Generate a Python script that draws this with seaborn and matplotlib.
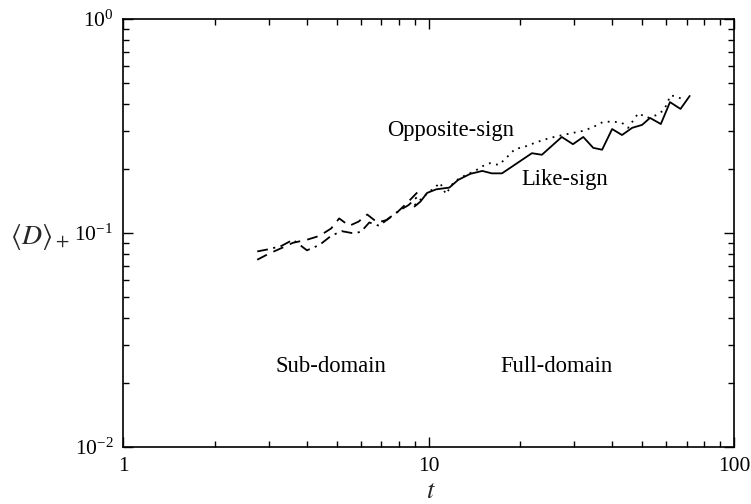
import numpy as np
import pandas as pd
import matplotlib
matplotlib.use("Agg")
import matplotlib.pyplot as plt
from matplotlib.ticker import LogLocator, LogFormatterMathtext, FuncFormatter, NullFormatter
import seaborn as sns

# Sub-domain runs
sub_dash_t = [2.75, 3.0, 3.3, 3.6, 4.0, 4.4, 4.8, 5.1, 5.5, 5.9, 6.3, 6.8, 7.3, 7.9, 8.5, 9.2]
sub_dash_D = [0.075, 0.080, 0.085, 0.090, 0.093, 0.097, 0.105, 0.117, 0.108, 0.113,
              0.122, 0.112, 0.115, 0.125, 0.138, 0.155]
sub_dashdot_t = [2.75, 3.0, 3.3, 3.6, 4.0, 4.4, 4.8, 5.2, 5.6, 6.0, 6.4, 6.9, 7.4, 8.0, 8.6, 9.3]
sub_dashdot_D = [0.082, 0.084, 0.087, 0.093, 0.083, 0.088, 0.097, 0.102, 0.100, 0.101,
                 0.112, 0.108, 0.117, 0.127, 0.135, 0.150]

# Full-domain runs
like_t = [9.0, 9.4, 9.9, 10.6, 11.7, 12.5, 13.7, 15.0, 16.1, 17.4, 19.5, 21.8, 23.5, 27.3,
          29.7, 32.1, 34.6, 37.0, 39.9, 43.0, 46.4, 50.0, 53.1, 57.6, 60.6, 61.7, 66.8, 71.6]
like_D = [0.133, 0.140, 0.154, 0.160, 0.163, 0.177, 0.189, 0.195, 0.190, 0.190, 0.212, 0.236,
          0.232, 0.281, 0.260, 0.281, 0.250, 0.245, 0.306, 0.287, 0.310, 0.320, 0.345, 0.323,
          0.384, 0.409, 0.380, 0.437]
opp_t = [9.0, 9.5, 10.0, 10.5, 10.9, 11.4, 12.0, 12.6, 13.4, 14.2, 15.0, 15.9, 17.0, 18.0,
         19.2, 20.5, 22.0, 23.7, 25.5, 27.5, 29.5, 32.0, 34.5, 37.2, 40.0, 43.0, 45.0, 48.6,
         52.0, 55.5, 59.0, 62.0, 65.5, 68.0]
opp_D = [0.135, 0.145, 0.155, 0.163, 0.172, 0.152, 0.170, 0.180, 0.188, 0.195, 0.205, 0.212,
         0.208, 0.225, 0.247, 0.252, 0.262, 0.272, 0.280, 0.287, 0.293, 0.300, 0.312, 0.330,
         0.332, 0.327, 0.310, 0.363, 0.345, 0.355, 0.375, 0.440, 0.432, 0.420]

sns.set_theme(style="ticks")
plt.rcParams["font.family"] = ["Liberation Serif", "DejaVu Serif"]
plt.rcParams["mathtext.fontset"] = "stix"

fig = plt.figure(figsize=(7.51, 5.04), dpi=100)
ax = fig.add_axes([0.1638, 0.1131, 0.8136, 0.8492])

lw = 1.3
sns.lineplot(x=sub_dash_t, y=sub_dash_D, ax=ax, color="black", lw=lw,
             linestyle=(0, (6, 4)))
sns.lineplot(x=sub_dashdot_t, y=sub_dashdot_D, ax=ax, color="black", lw=lw,
             linestyle=(0, (6, 3, 1.2, 3)))
sns.lineplot(x=like_t, y=like_D, ax=ax, color="black", lw=lw, linestyle="-")
sns.lineplot(x=opp_t, y=opp_D, ax=ax, color="black", lw=lw, linestyle=(0, (1, 3)))

ax.set_xscale("log")
ax.set_yscale("log")
ax.set_xlim(1, 100)
ax.set_ylim(0.01, 1)

ax.xaxis.set_major_locator(LogLocator(base=10, numticks=10))
ax.xaxis.set_minor_locator(LogLocator(base=10, subs=np.arange(2, 10), numticks=20))
ax.yaxis.set_major_locator(LogLocator(base=10, numticks=10))
ax.yaxis.set_minor_locator(LogLocator(base=10, subs=np.arange(2, 10), numticks=20))
ax.xaxis.set_major_formatter(FuncFormatter(lambda v, p: f"{v:g}"))
ax.xaxis.set_minor_formatter(NullFormatter())
ax.yaxis.set_major_formatter(LogFormatterMathtext())
ax.yaxis.set_minor_formatter(NullFormatter())

ax.tick_params(which="both", direction="in", top=True, right=True, colors="black",
               labelsize=15.5, width=1.0)
ax.tick_params(which="major", length=7, pad=7)
ax.tick_params(which="minor", length=4)
for s in ax.spines.values():
    s.set_color("black")
    s.set_linewidth(1.2)
    s.set_visible(True)

ax.set_xlabel(r"$t$", fontsize=19)
ax.xaxis.set_label_coords(0.504, -0.080)
ax.set_ylabel(r"$\langle D\rangle_+$", fontsize=20, rotation=0, ha="center", va="center")
ax.yaxis.set_label_coords(-0.136, 0.49)

txt = dict(fontsize=16.3, ha="center", va="center", color="black")
ax.text(11.85, 0.30, "Opposite-sign", **txt)
ax.text(27.9, 0.177, "Like-sign", **txt)
ax.text(4.8, 0.0237, "Sub-domain", **txt)
ax.text(26.3, 0.0237, "Full-domain", **txt)

fig.savefig("out.png", dpi=100)
